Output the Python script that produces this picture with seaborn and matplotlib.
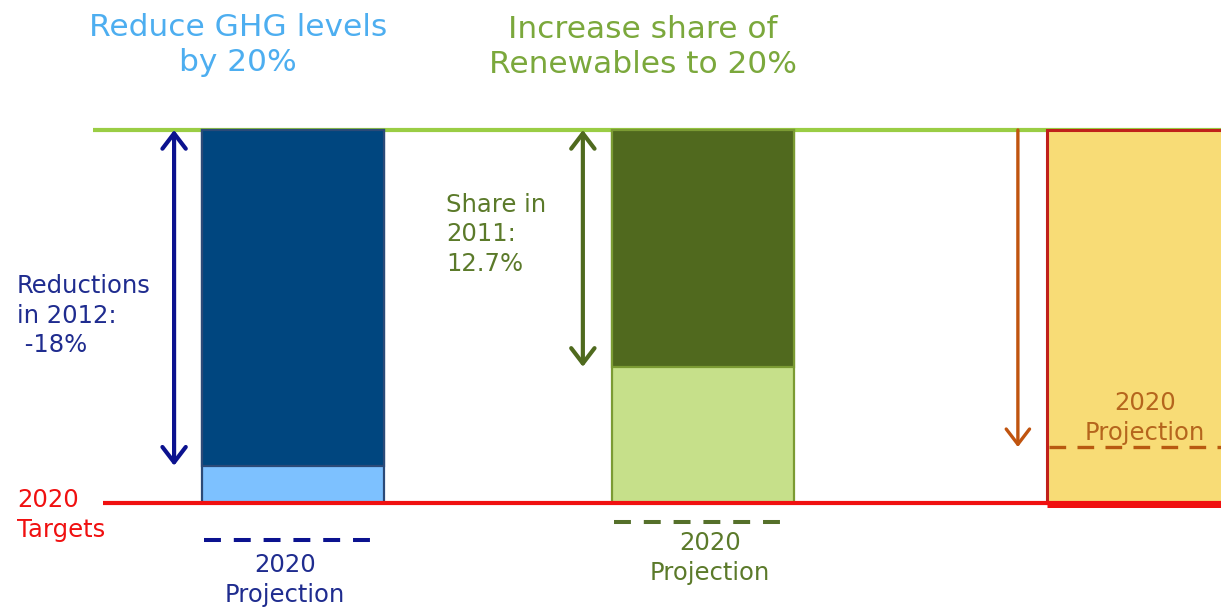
import matplotlib
matplotlib.use("Agg")
import matplotlib.pyplot as plt
import seaborn as sns

# ---- 2020 climate & energy targets (percent of the way to each target) ----
goals = ["Reduce GHG levels\nby 20%", "Increase share of\nRenewables to 20%", "Energy efficiency"]
target_pct = [20.0, 20.0, 20.0]
achieved_pct = [18.0, 12.7, 17.0]        # latest reported progress
projection_pct = [22.0, 21.0, 17.0]      # 2020 projection
achieved_labels = ["Reductions\nin 2012:\n -18%", "Share in\n2011:\n12.7%", ""]
projection_label = "2020\nProjection"
target_label = "2020\nTargets"

# ---- layout ----
bar_pos = [0.0, 1.0, 2.061]
bar_w = 0.444
arrow_pos = [-0.29, 0.707, 1.768]

# ---- colours ----
dark_fill = ["#00467F", "#50691E", "#F8DC76"]
light_fill = ["#7DC1FF", "#C6E08A", "#F8DC76"]
bar_edge = ["#2B4A78", "#7B9B33", "#C0201A"]
arrow_col = ["#0B128F", "#4F6A1E", "#C0540F"]
text_col = ["#1F2C8F", "#5B7A2A", "#B5651D"]
dash_col = ["#0B128F", "#55702A", "#B85A10"]
title_col = ["#4DAEF0", "#7BA83C"]
base_green = "#9ACD44"
target_red = "#F01010"

TITLE_FS, TITLE_LS = 22.5, 1.27
LABEL_FS, LABEL_LS = 17.5, 1.29

sns.set_theme(style="white")
plt.rcParams["font.family"] = ["DejaVu Sans"]

fig = plt.figure(figsize=(12.21, 6.08), dpi=100)
ax = fig.add_axes([0, 0, 1, 1])

# Bars: full target height in the light colour, progress overlaid in the dark colour
for i in range(3):
    sns.barplot(x=[bar_pos[i]], y=[target_pct[i]], color=light_fill[i],
                edgecolor=bar_edge[i], linewidth=2.2 if i == 2 else 1.6,
                width=bar_w, native_scale=True, errorbar=None,
                saturation=1, ax=ax, zorder=2)
    if i < 2:
        sns.barplot(x=[bar_pos[i]], y=[achieved_pct[i]], color=dark_fill[i],
                    edgecolor=bar_edge[i], linewidth=1.6,
                    width=bar_w, native_scale=True, errorbar=None,
                    saturation=1, ax=ax, zorder=2.1)

# Baseline (green) and 2020 target (red) reference lines
ax.plot([-0.488, 2.30], [0, 0], color=base_green, lw=3.0, zorder=1, solid_capstyle="butt")
ax.plot([-0.463, 2.30], [20, 20], color=target_red, lw=3.0, zorder=3, solid_capstyle="butt")
ax.plot([bar_pos[2] - bar_w / 2, 2.30], [20.1, 20.1], color=target_red, lw=3.6, zorder=3,
        solid_capstyle="butt")

# Progress arrows
for i in range(3):
    style = "<->" if i < 2 else "->"
    ax.annotate("", xy=(arrow_pos[i], achieved_pct[i]), xytext=(arrow_pos[i], 0),
                arrowprops=dict(arrowstyle=f"{style},head_length=0.55,head_width=0.42",
                                color=arrow_col[i], lw=3.0 if i < 2 else 2.4,
                                shrinkA=0, shrinkB=0, mutation_scale=20),
                zorder=4)

# Dashed projection markers
for i in range(3):
    x0 = bar_pos[i] - bar_w / 2 + 0.005
    x1 = bar_pos[i] + bar_w / 2 - 0.005 if i < 2 else 2.30
    ax.plot([x0, x1], [projection_pct[i], projection_pct[i]], color=dash_col[i],
            lw=2.9 if i < 2 else 2.4, dashes=(4.2, 3.2) if i < 2 else (5.0, 3.4),
            zorder=4, solid_capstyle="butt", dash_capstyle="butt")

# Titles
ax.text(-0.134, -4.55, goals[0], color=title_col[0], fontsize=TITLE_FS,
        linespacing=TITLE_LS, ha="center", va="center")
ax.text(0.854, -4.45, goals[1], color=title_col[1], fontsize=TITLE_FS,
        linespacing=TITLE_LS, ha="center", va="center")

# Progress labels
ax.text(-0.673, 9.97, achieved_labels[0], color=text_col[0], fontsize=LABEL_FS,
        linespacing=LABEL_LS, ha="left", va="center")
ax.text(0.373, 5.58, achieved_labels[1], color=text_col[1], fontsize=LABEL_FS,
        linespacing=LABEL_LS, ha="left", va="center")

# Target label
ax.text(-0.673, 20.64, target_label, color=target_red, fontsize=LABEL_FS,
        linespacing=LABEL_LS, ha="left", va="center")

# Projection labels
ax.text(-0.0195, 24.13, projection_label, color=text_col[0], fontsize=LABEL_FS,
        linespacing=LABEL_LS, ha="center", va="center")
ax.text(1.017, 22.95, projection_label, color=text_col[1], fontsize=LABEL_FS,
        linespacing=LABEL_LS, ha="center", va="center")
ax.text(2.078, 15.44, projection_label, color=text_col[2], fontsize=LABEL_FS,
        linespacing=LABEL_LS, ha="center", va="center", zorder=5)

ax.set_xlim(-0.7146, 2.2634)
ax.set_ylim(25.63, -6.97)
ax.axis("off")

fig.savefig("out.png", dpi=100)
